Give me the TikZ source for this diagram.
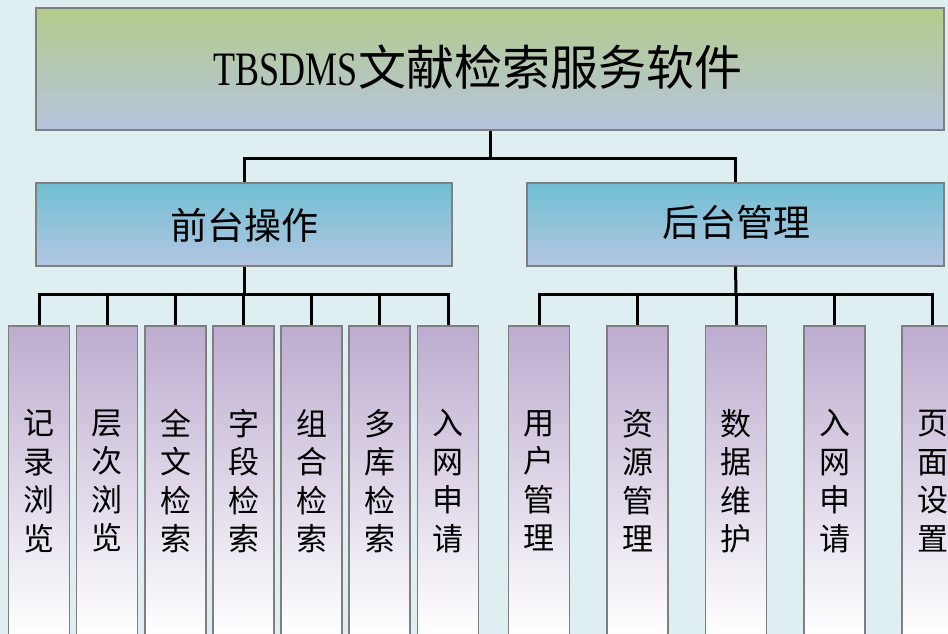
\documentclass[tikz,border=0pt]{standalone}
\usepackage{fontspec}
\newfontfamily\cjk{Noto Sans CJK SC}
\newfontfamily\latser[FakeStretch=0.75]{Liberation Serif}
\definecolor{bgc}{HTML}{DEEEF1}
\definecolor{topA}{HTML}{B5CB8B}
\definecolor{topB}{HTML}{B5C4DE}
\definecolor{midA}{HTML}{70BFD3}
\definecolor{midB}{HTML}{B4C6E2}
\definecolor{leafA}{HTML}{BDACCF}
\definecolor{leafB}{HTML}{FFFFFF}
\definecolor{edgec}{HTML}{7F7F7F}
\tikzset{
  boxbase/.style={draw=edgec, line width=1.2pt, rectangle, inner sep=0pt},
  topbox/.style={boxbase, top color=topA, bottom color=topB, minimum width=908pt, minimum height=122pt},
  midbox/.style={boxbase, top color=midA, bottom color=midB, minimum height=83pt},
  leafbox/.style={boxbase, top color=leafA, bottom color=leafB, minimum width=61pt, minimum height=310pt},
  titletext/.style={inner sep=0pt, font=\fontsize{48}{54}\selectfont},
  midtext/.style={inner sep=0pt, font=\fontsize{37}{40}\selectfont\cjk},
  leaftext/.style={inner sep=0pt, align=center, font=\fontsize{31}{38.5}\selectfont\cjk},
  conn/.style={draw=black, line width=3pt, line join=miter}
}
\begin{document}
\begin{tikzpicture}[x=1pt, y=-1pt]
\useasboundingbox (0,0) rectangle (948,634);
\clip (0,0) rectangle (948,634);
\fill[bgc] (0,0) rectangle (948,634);

% top
\node[topbox] (top) at (490,69) {};
\node[titletext] (toptxt) at (478,67) {\latser TBSDMS\cjk 文献检索服务软件};

% level 2
\node[midbox, minimum width=416pt] (fa) at (244,224.5) {};
\node[midtext] (fatxt) at (244,225) {前台操作};
\node[midbox, minimum width=417pt] (fb) at (735.5,224.5) {};
\node[midtext] (fbtxt) at (736,222) {后台管理};

% leaves left
\node[leafbox] (a1) at (39,481) {};
\node[leafbox] (a2) at (107,481) {};
\node[leafbox] (a3) at (175.5,481) {};
\node[leafbox] (a4) at (243.5,481) {};
\node[leafbox] (a5) at (311.5,481) {};
\node[leafbox] (a6) at (379.5,481) {};
\node[leafbox] (a7) at (448,481) {};
\node[leaftext] at (a1) {记\\录\\浏\\览};
\node[leaftext] at (a2) {层\\次\\浏\\览};
\node[leaftext] at (a3) {全\\文\\检\\索};
\node[leaftext] at (a4) {字\\段\\检\\索};
\node[leaftext] at (a5) {组\\合\\检\\索};
\node[leaftext] at (a6) {多\\库\\检\\索};
\node[leaftext] at (a7) {入\\网\\申\\请};

% leaves right
\node[leafbox] (b1) at (539,481) {};
\node[leafbox] (b2) at (637.5,481) {};
\node[leafbox] (b3) at (736,481) {};
\node[leafbox] (b4) at (834.5,481) {};
\node[leafbox] (b5) at (932.5,481) {};
\node[leaftext] at (b1) {用\\户\\管\\理};
\node[leaftext] at (b2) {资\\源\\管\\理};
\node[leaftext] at (b3) {数\\据\\维\\护};
\node[leaftext] at (b4) {入\\网\\申\\请};
\node[leaftext] at (b5) {页\\面\\设\\置};

% connectors
\coordinate (j0) at (490,158);
\coordinate (ja) at (244,294);
\coordinate (jb) at (736,294);
\draw[conn] (top.south) -- (j0);
\draw[conn] (fa.north) |- (j0) -| (fb.north);
\draw[conn] (fa.south) -- (ja);
\foreach \n in {a1,a2,a3,a4,a5,a6,a7} \draw[conn] (ja) -| (\n.north);
\draw[conn] (fb.south) -- (jb);
\foreach \n in {b1,b2,b3,b4,b5} \draw[conn] (jb) -| (\n.north);
\end{tikzpicture}
\end{document}
